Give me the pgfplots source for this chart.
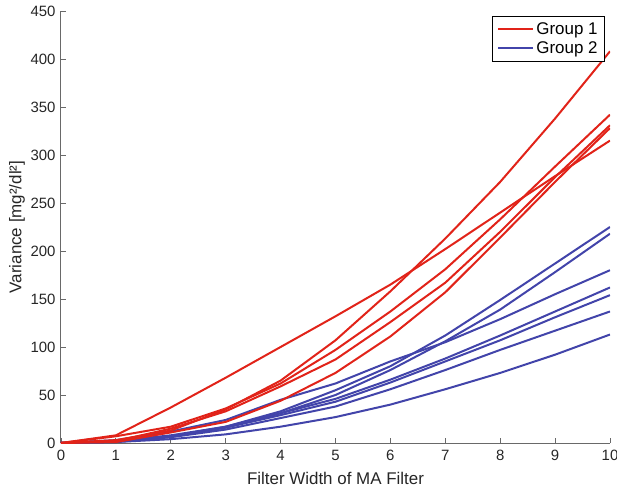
\documentclass[border=0pt]{standalone}
\usepackage{fontspec}
\setmainfont{Liberation Sans}
\usepackage{pgfplots}
\usepackage{pgfplotstable}
\pgfplotsset{compat=1.18}

\definecolor{grpred}{RGB}{225,35,25}
\definecolor{grpblue}{RGB}{66,68,170}
\definecolor{axgray}{RGB}{105,105,105}

% Group 1: variance versus moving-average filter width
\pgfplotstableread{
x   A    B    C    D    E
0   0    0    0    0    0
1   8    3    7    2    1
2   37   13   17   15   11
3   68   35   36   33   22
4   100  65   62   59   44
5   132  107  97   87   73
6   165  158  137  126  111
7   202  213  181  167  157
8   240  272  233  220  214
9   278  338  288  277  272
10  315  408  342  331  328
}\groupone

% Group 2
\pgfplotstableread{
x   b1   b2   b3   b4   b5   b6   b7
0   0    0    0    0    0    0    0
1   2    2    3    2    2    1    1
2   7    7    12   8    7    6    4
3   17   16   24   17   16   14   9
4   33   31   45   31   29   26   17
5   55   50   62   46   43   38   27
6   80   76   85   66   63   56   40
7   112  106  105  88   85   76   56
8   149  139  129  112  107  97   73
9   187  178  155  137  131  117  92
10  225  218  180  162  154  137  113
}\grouptwo

\begin{document}
\begin{tikzpicture}
\begin{axis}[
  at={(0,0)}, anchor=south west,
  scale only axis, width=549bp, height=432bp,
  xmin=0, xmax=10, ymin=0, ymax=450,
  xtick={0,1,...,10}, ytick={0,50,...,450},
  axis x line=bottom, axis y line=left,
  axis line style={draw=axgray, line width=1bp, -},
  tick align=inside, major tick length=5bp,
  tick style={draw=axgray, line width=0.8bp},
  /pgf/number format/assume math mode=true,
  tick label style={font=\fontsize{15}{18}\selectfont, text=black!85},
  x tick label style={yshift=-4bp},
  y tick label style={xshift=-2bp},
  xlabel={Filter Width of MA Filter},
  ylabel={Variance [mg²/dl²]},
  label style={font=\fontsize{17}{20}\selectfont, text=black!85},
  xlabel style={at={(axis description cs:0.5,0)}, anchor=center, yshift=-35bp},
  ylabel style={at={(axis description cs:-0.0801,0.5)}, anchor=center},
  legend style={at={(axis description cs:1,1)}, anchor=north east,
    xshift=-5bp, yshift=-5bp, draw=black, line width=0.8bp, fill=white,
    font=\fontsize{17}{20}\selectfont, inner xsep=5bp, inner ysep=4bp,
    row sep=2bp, cells={anchor=west}},
  legend image code/.code={\draw[#1, line width=2.2bp] (0bp,0bp) -- (35bp,0bp);},
  reverse legend,
  every axis plot/.append style={line width=2bp, line join=round},
]
  % Group 2 curves (drawn first)
  \addplot[grpblue] table[x=x, y=b1] {\grouptwo};
  \addlegendentry{Group 2}
  \addplot[grpblue, forget plot] table[x=x, y=b2] {\grouptwo};
  \addplot[grpblue, forget plot] table[x=x, y=b3] {\grouptwo};
  \addplot[grpblue, forget plot] table[x=x, y=b4] {\grouptwo};
  \addplot[grpblue, forget plot] table[x=x, y=b5] {\grouptwo};
  \addplot[grpblue, forget plot] table[x=x, y=b6] {\grouptwo};
  \addplot[grpblue, forget plot] table[x=x, y=b7] {\grouptwo};
  % Group 1 curves
  \addplot[grpred] table[x=x, y=A] {\groupone};
  \addlegendentry{Group 1}
  \addplot[grpred, forget plot] table[x=x, y=B] {\groupone};
  \addplot[grpred, forget plot] table[x=x, y=C] {\groupone};
  \addplot[grpred, forget plot] table[x=x, y=D] {\groupone};
  \addplot[grpred, forget plot] table[x=x, y=E] {\groupone};
\end{axis}
\pgfresetboundingbox
\path[use as bounding box] (-61bp,-46bp) rectangle (556bp,443bp);
\end{tikzpicture}
\end{document}
